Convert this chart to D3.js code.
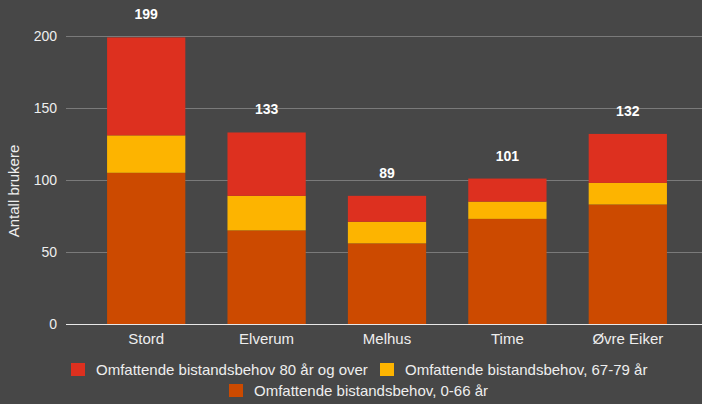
<!DOCTYPE html>
<html>
<head>
<meta charset="utf-8">
<script src="https://cdn.jsdelivr.net/npm/d3@7"></script>
<style>
  body { margin: 0; background: #474747; }
  svg { display: block; font-family: "Liberation Sans", Arial, sans-serif; }
</style>
</head>
<body>
<svg width="702" height="404"></svg>
<script>
let kommuner = ["Stord", "Elverum", "Melhus", "Time", "Øvre Eiker"];
let alder0til66 = [105, 65, 56, 73, 83];
let alder67til79 = [26, 24, 15, 12, 15];
let alder80pluss = [68, 44, 18, 16, 34];
let yTicks = [0, 50, 100, 150, 200];

let seriesNames = [
    "Omfattende bistandsbehov, 0-66 år",
    "Omfattende bistandsbehov, 67-79 år",
    "Omfattende bistandsbehov 80 år og over"
];
let seriesColors = ["#cc4a00", "#fdb400", "#dd301f"];

let svg = d3.select("svg");
svg.append("rect").attr("width", 702).attr("height", 404).attr("fill", "#474747");

let rows = kommuner.map(function (k, i) {
    return {kommune: k, a: alder0til66[i], b: alder67til79[i], c: alder80pluss[i]};
});
let stack = d3.stack().keys(["a", "b", "c"]);
let layers = stack(rows);

let x = d3.scaleBand()
    .domain(kommuner)
    .range([86, 688])
    .paddingInner(0.35)
    .paddingOuter(0.175);

let y = d3.scaleLinear().domain([0, 200]).range([324, 36]);

// gridlines
svg.append("g")
    .selectAll("line")
    .data(yTicks)
    .enter().append("line")
    .attr("x1", 66).attr("x2", 702)
    .attr("y1", d => y(d) + 0.5).attr("y2", d => y(d) + 0.5)
    .attr("stroke", d => d === 0 ? "#e8e8e8" : "#7a7a7a")
    .attr("stroke-width", 1);

// y axis labels
let yAxis = svg.append("g")
    .attr("transform", "translate(66,0)")
    .call(d3.axisLeft(y).tickValues(yTicks).tickSize(0).tickPadding(9));
yAxis.select(".domain").remove();
yAxis.selectAll("text")
    .attr("fill", "#eeeeee")
    .style("font-size", "14px")
    .style("font-family", "\"Liberation Sans\", Arial, sans-serif");

svg.append("text")
    .attr("transform", "translate(19,191) rotate(-90)")
    .attr("text-anchor", "middle")
    .attr("fill", "#eeeeee")
    .style("font-size", "15px")
    .text("Antall brukere");

// bars
svg.append("g")
    .selectAll("g")
    .data(layers)
    .enter().append("g")
    .attr("fill", (d, i) => seriesColors[i])
    .selectAll("rect")
    .data(d => d)
    .enter().append("rect")
    .attr("x", d => x(d.data.kommune))
    .attr("y", d => y(d[1]))
    .attr("width", x.bandwidth())
    .attr("height", d => y(d[0]) - y(d[1]));

// totals
svg.append("g")
    .selectAll("text")
    .data(rows)
    .enter().append("text")
    .attr("x", d => x(d.kommune) + x.bandwidth() / 2)
    .attr("y", d => y(d.a + d.b + d.c) - 18)
    .attr("text-anchor", "middle")
    .attr("fill", "#ffffff")
    .style("font-size", "14px")
    .style("font-weight", "bold")
    .text(d => d.a + d.b + d.c);

// x axis labels
let xAxis = svg.append("g")
    .attr("transform", "translate(0,324)")
    .call(d3.axisBottom(x).tickSize(0).tickPadding(9));
xAxis.select(".domain").remove();
xAxis.selectAll("text")
    .attr("fill", "#eeeeee")
    .style("font-size", "15px")
    .style("font-family", "\"Liberation Sans\", Arial, sans-serif");

// legend
let legendItems = [
    {name: seriesNames[2], color: seriesColors[2], x: 71, y: 370},
    {name: seriesNames[1], color: seriesColors[1], x: 380, y: 370},
    {name: seriesNames[0], color: seriesColors[0], x: 229, y: 391}
];
let legend = svg.append("g")
    .selectAll("g")
    .data(legendItems)
    .enter().append("g")
    .attr("transform", d => "translate(" + d.x + "," + d.y + ")");
legend.append("rect")
    .attr("x", 0).attr("y", -7)
    .attr("width", 14).attr("height", 13)
    .attr("fill", d => d.color);
legend.append("text")
    .attr("x", 25).attr("y", 5)
    .attr("fill", "#eeeeee")
    .style("font-size", "15px")
    .text(d => d.name);
</script>
</body>
</html>
